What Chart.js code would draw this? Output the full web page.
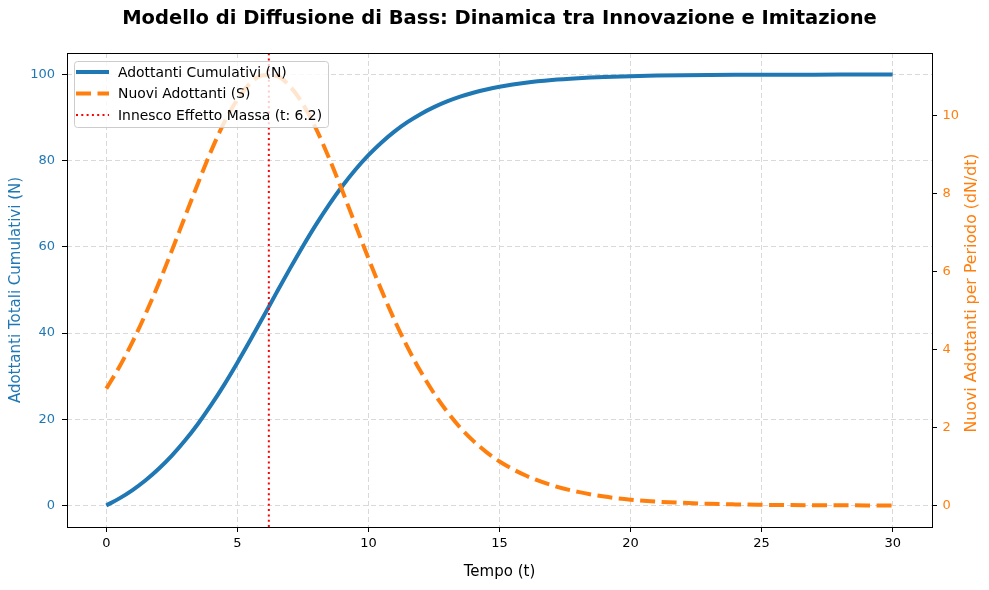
<!DOCTYPE html>
<html>
<head>
<meta charset="utf-8">
<script src="https://cdn.jsdelivr.net/npm/chart.js@4.4.0/dist/chart.umd.min.js"></script>
<style>
  html, body { margin: 0; padding: 0; background: #fff; }
  #wrap { width: 989px; height: 590px; }
</style>
</head>
<body>
<div id="wrap"><canvas id="myChart" width="989" height="590"></canvas></div>
<script>
// dati
const tempo = [0, 0.5, 1, 1.5, 2, 2.5, 3, 3.5, 4, 4.5, 5, 5.5, 6, 6.5, 7, 7.5, 8, 8.5, 9, 9.5,
  10, 10.5, 11, 11.5, 12, 12.5, 13, 13.5, 14, 14.5, 15,
  16, 17, 18, 19, 20, 21, 22, 23, 24, 25, 26, 27, 28, 29, 30];
const adottantiCumulativi = [0, 1.64, 3.58, 5.85, 8.51, 11.56, 15.05, 18.97, 23.32, 28.05, 33.13, 38.44,
  43.92, 49.45, 54.90, 60.17, 65.17, 69.83, 74.07, 77.90, 81.28, 84.24, 86.81, 89.00, 90.87,
  92.44, 93.76, 94.87, 95.78, 96.54, 97.16,
  98.10, 98.73, 99.15, 99.44, 99.63, 99.75, 99.83, 99.89, 99.93, 99.95, 99.97, 99.98, 99.985, 99.99, 99.99];
const nuoviAdottanti = [3.00, 3.56, 4.20, 4.92, 5.70, 6.54, 7.41, 8.27, 9.10, 9.83, 10.42, 10.84,
  11.04, 11.02, 10.76, 10.30, 9.67, 8.91, 8.08, 7.21, 6.34, 5.52, 4.75, 4.05, 3.43,
  2.88, 2.41, 2.00, 1.66, 1.37, 1.13,
  0.77, 0.52, 0.35, 0.23, 0.15, 0.10, 0.07, 0.045, 0.03, 0.02, 0.012, 0.008, 0.006, 0.004, 0.003];
const piccoT = 6.2;

const xTicks = [0, 5, 10, 15, 20, 25, 30];
const leftTicks = [0, 20, 40, 60, 80, 100];
const rightTicks = [0, 2, 4, 6, 8, 10];

const titolo = 'Modello di Diffusione di Bass: Dinamica tra Innovazione e Imitazione';
const titoloDestra = 'Nuovi Adottanti per Periodo (dN/dt)';
const etichette = ['Adottanti Cumulativi (N)', 'Nuovi Adottanti (S)', 'Innesco Effetto Massa (t: ' + piccoT + ')'];

const BLUE = '#1f77b4', ORANGE = '#ff7f0e', RED = '#ff0000';
const FONT = '"DejaVu Sans", sans-serif';

const pts = (ys) => tempo.map((t, i) => ({ x: t, y: ys[i] }));

// titolo, cornice, etichetta destra e legenda disegnati a mano (stile matplotlib)
const extras = {
  id: 'extras',
  afterDraw(chart) {
    const ctx = chart.ctx;
    const a = chart.chartArea;
    ctx.save();
    // titolo centrato sugli assi
    ctx.font = 'bold 19.5px ' + FONT;
    ctx.fillStyle = '#000';
    ctx.textAlign = 'center';
    ctx.textBaseline = 'middle';
    ctx.fillText(titolo, (a.left + a.right) / 2, 19);

    // etichetta asse destro, letta dal basso verso l'alto
    ctx.save();
    ctx.translate(972, (a.top + a.bottom) / 2 + 3);
    ctx.rotate(-Math.PI / 2);
    ctx.font = '15.8px ' + FONT;
    ctx.fillStyle = ORANGE;
    ctx.fillText(titoloDestra, 0, 0);
    ctx.restore();

    // cornice
    ctx.strokeStyle = '#000';
    ctx.lineWidth = 1;
    ctx.strokeRect(Math.round(a.left) + 0.5, Math.round(a.top) + 0.5,
      Math.round(a.right - a.left), Math.round(a.bottom - a.top));

    // legenda
    const x0 = 74, y0 = 61, w = 254, h = 66;
    ctx.beginPath();
    ctx.roundRect(x0 + 0.5, y0 + 0.5, w, h, 3);
    ctx.fillStyle = 'rgba(255,255,255,0.8)';
    ctx.fill();
    ctx.strokeStyle = '#cccccc';
    ctx.stroke();

    const stili = [
      { color: BLUE, dash: [], width: 4 },
      { color: ORANGE, dash: [15, 6.5], width: 4 },
      { color: RED, dash: [2, 3.3], width: 2 }
    ];
    const rows = [72, 93.5, 115];
    ctx.font = '13.9px ' + FONT;
    ctx.textAlign = 'left';
    stili.forEach((s, i) => {
      ctx.beginPath();
      ctx.setLineDash(s.dash);
      ctx.lineWidth = s.width;
      ctx.strokeStyle = s.color;
      ctx.moveTo(76, rows[i]);
      ctx.lineTo(109, rows[i]);
      ctx.stroke();
      ctx.setLineDash([]);
      ctx.fillStyle = '#000';
      ctx.fillText(etichette[i], 118, rows[i] + 1);
    });
    ctx.restore();
  }
};

const gridDash = { display: false, dash: [5, 3] };

new Chart(document.getElementById('myChart'), {
  type: 'line',
  data: {
    datasets: [
      {
        label: etichette[1],
        data: pts(nuoviAdottanti),
        yAxisID: 'y1',
        borderColor: ORANGE,
        borderWidth: 4,
        borderDash: [15, 6.5],
        pointRadius: 0,
        cubicInterpolationMode: 'monotone',
        order: 1
      },
      {
        label: etichette[2],
        data: [{ x: piccoT, y: -5 }, { x: piccoT, y: 105 }],
        yAxisID: 'y',
        borderColor: RED,
        borderWidth: 2,
        borderDash: [2, 3.3],
        pointRadius: 0,
        order: 2
      },
      {
        label: etichette[0],
        data: pts(adottantiCumulativi),
        yAxisID: 'y',
        borderColor: BLUE,
        borderWidth: 4,
        pointRadius: 0,
        cubicInterpolationMode: 'monotone',
        order: 3
      }
    ]
  },
  options: {
    responsive: false,
    animation: false,
    devicePixelRatio: 1,
    layout: { padding: { top: 53, left: 0, right: 0, bottom: 0 } },
    plugins: {
      legend: { display: false },
      title: { display: false },
      tooltip: { enabled: false }
    },
    scales: {
      x: {
        type: 'linear',
        min: -1.5,
        max: 31.5,
        afterBuildTicks: (s) => { s.ticks = xTicks.map(v => ({ value: v })); },
        afterFit: (s) => { s.height = 63; },
        grid: { color: '#d9d9d9', tickColor: '#000', tickLength: 5, lineWidth: 1 },
        border: gridDash,
        ticks: { color: '#000', padding: 4, font: { family: FONT, size: 13 }, maxRotation: 0 },
        title: { display: true, text: 'Tempo (t)', color: '#000', font: { family: FONT, size: 15 }, padding: { top: 9, bottom: 9 } }
      },
      y: {
        position: 'left',
        min: -5,
        max: 105,
        afterBuildTicks: (s) => { s.ticks = leftTicks.map(v => ({ value: v })); },
        afterFit: (s) => { s.width = 67; },
        grid: { color: '#d9d9d9', tickColor: '#000', tickLength: 5, lineWidth: 1 },
        border: gridDash,
        ticks: { color: BLUE, padding: 7, font: { family: FONT, size: 13 } },
        title: { display: true, text: 'Adottanti Totali Cumulativi (N)', color: BLUE, font: { family: FONT, size: 15 }, padding: { top: 7, bottom: 7 } }
      },
      y1: {
        position: 'right',
        min: -0.55,
        max: 11.61,
        afterBuildTicks: (s) => { s.ticks = rightTicks.map(v => ({ value: v })); },
        afterFit: (s) => { s.width = 57; },
        grid: { drawOnChartArea: false, color: '#000', tickColor: '#000', tickLength: 5 },
        border: { display: false },
        ticks: { color: ORANGE, padding: 5.5, font: { family: FONT, size: 13 } },
        title: { display: false }
      }
    }
  },
  plugins: [extras]
});
</script>
</body>
</html>
